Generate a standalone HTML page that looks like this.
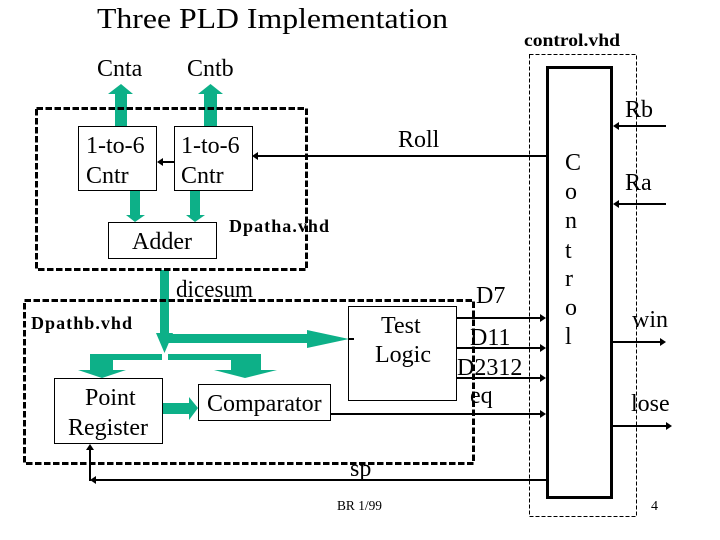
<!DOCTYPE html>
<html><head><meta charset="utf-8"><style>
html,body{margin:0;padding:0;background:#fff;width:720px;height:540px;overflow:hidden}
svg{display:block}
text{font-family:"Liberation Serif",serif;font-size:24px;fill:#000}
.b{font-weight:bold;font-size:18px}
.s{font-size:14px}
</style></head><body>
<svg width="720" height="540" viewBox="0 0 720 540" xmlns="http://www.w3.org/2000/svg">
<rect width="720" height="540" fill="#fff"/>
<g fill="#0db088">
<polygon points="115,126 115,94 108,94 121,84 133,94 127,94 127,126"/>
<polygon points="204,126 204,94 198,94 210.500,84 223,94 217,94 217,126"/>
<polygon points="130,191 140,191 140,215 145,215 135,222 126,215 130,215"/>
<polygon points="190,191 200,191 200,215 205,215 195,222 186,215 190,215"/>
<polygon points="160,270 169,270 169,333 173,333 164.500,353 156,333 160,333"/>
<polygon points="168,334 307,334 307,330 349,339 307,348 307,343 168,343"/>
<polygon points="162,354 162,360 113,360 113,370 126,370 102,378 78,370 90,370 90,354"/>
<polygon points="168,354 168,360 231,360 231,370 214,370 245,378 277,370 261,370 261,354"/>
<polygon points="163,403 189,403 189,397 198,408 189,420 189,414 163,414"/>
</g>
<g fill="#fff" stroke="#000" stroke-width="1">
<rect x="78.500" y="126.500" width="78" height="64"/>
<rect x="174.500" y="126.500" width="78" height="64"/>
<rect x="108.500" y="222.500" width="108" height="36"/>
<rect x="348.500" y="306.500" width="108" height="94"/>
<rect x="54.500" y="378.500" width="108" height="65"/>
<rect x="198.500" y="384.500" width="132" height="36"/>
</g>
<rect x="36.500" y="108.500" width="270" height="161" fill="none" stroke="#000" stroke-width="3" stroke-dasharray="6.500 2.500"/>
<rect x="24.500" y="300.500" width="449" height="163" fill="none" stroke="#000" stroke-width="3" stroke-dasharray="6.500 2.500"/>
<rect x="529.500" y="54.500" width="107" height="462" fill="none" stroke="#000" stroke-width="1" stroke-dasharray="4 2"/>
<rect x="547.500" y="67.500" width="64" height="430" fill="#fff" stroke="#000" stroke-width="3"/>
<g stroke="#000" stroke-width="2" fill="none">
<path d="M546 156H256"/>
<path d="M174 162H161"/>
<path d="M349 339H354"/>
<path d="M457 318H541"/>
<path d="M457 348H541"/>
<path d="M457 378H541"/>
<path d="M331 414H541"/>
<path d="M546 480H94"/>
<path d="M90 481V448"/>
<path d="M613 342H661"/>
<path d="M613 426H667"/>
<path d="M666 126H618"/>
<path d="M666 204H618"/>
</g>
<g fill="#000">
<polygon points="252,156 258,152 258,160"/>
<polygon points="157,162 163,158 163,166"/>
<polygon points="546,318 540,314 540,322"/>
<polygon points="546,348 540,344 540,352"/>
<polygon points="546,378 540,374 540,382"/>
<polygon points="546,414 540,410 540,418"/>
<polygon points="90,480 96,476 96,484"/>
<polygon points="90,444 86,450 94,450"/>
<polygon points="666,342 660,338 660,346"/>
<polygon points="672,426 666,422 666,430"/>
<polygon points="613,126 619,122 619,130"/>
<polygon points="613,204 619,200 619,208"/>
</g>
<text x="97" y="28" style="font-size:29px" textLength="351" lengthAdjust="spacingAndGlyphs">Three PLD Implementation</text>
<text class="b" x="524" y="46" textLength="96" lengthAdjust="spacingAndGlyphs">control.vhd</text>
<text x="97" y="76">Cnta</text>
<text x="187" y="76">Cntb</text>
<text x="625" y="117">Rb</text>
<text x="398" y="147">Roll</text>
<text x="86" y="153">1-to-6</text>
<text x="86" y="183">Cntr</text>
<text x="181" y="153">1-to-6</text>
<text x="181" y="183">Cntr</text>
<text x="132" y="249">Adder</text>
<text class="b" x="229" y="232" textLength="100" lengthAdjust="spacing">Dpatha.vhd</text>
<text x="176" y="297" textLength="77" lengthAdjust="spacingAndGlyphs">dicesum</text>
<text class="b" x="31" y="329" textLength="101" lengthAdjust="spacing">Dpathb.vhd</text>
<text x="476" y="303">D7</text>
<text x="381" y="333">Test</text>
<text x="375" y="362">Logic</text>
<text x="470" y="345">D11</text>
<text x="457" y="375">D2312</text>
<text x="470" y="403">eq</text>
<text x="85" y="405">Point</text>
<text x="68" y="435">Register</text>
<text x="207" y="411">Comparator</text>
<text x="350" y="476">sp</text>
<text class="s" x="337" y="510" textLength="45" lengthAdjust="spacingAndGlyphs">BR 1/99</text>
<text class="s" x="651" y="510">4</text>
<text x="565" y="170">C</text>
<text x="565" y="199">o</text>
<text x="565" y="228">n</text>
<text x="565" y="258">t</text>
<text x="565" y="286">r</text>
<text x="565" y="315">o</text>
<text x="565" y="344">l</text>
<text x="625" y="190">Ra</text>
<text x="632" y="327">win</text>
<text x="631" y="411">lose</text>
</svg>
</body></html>
